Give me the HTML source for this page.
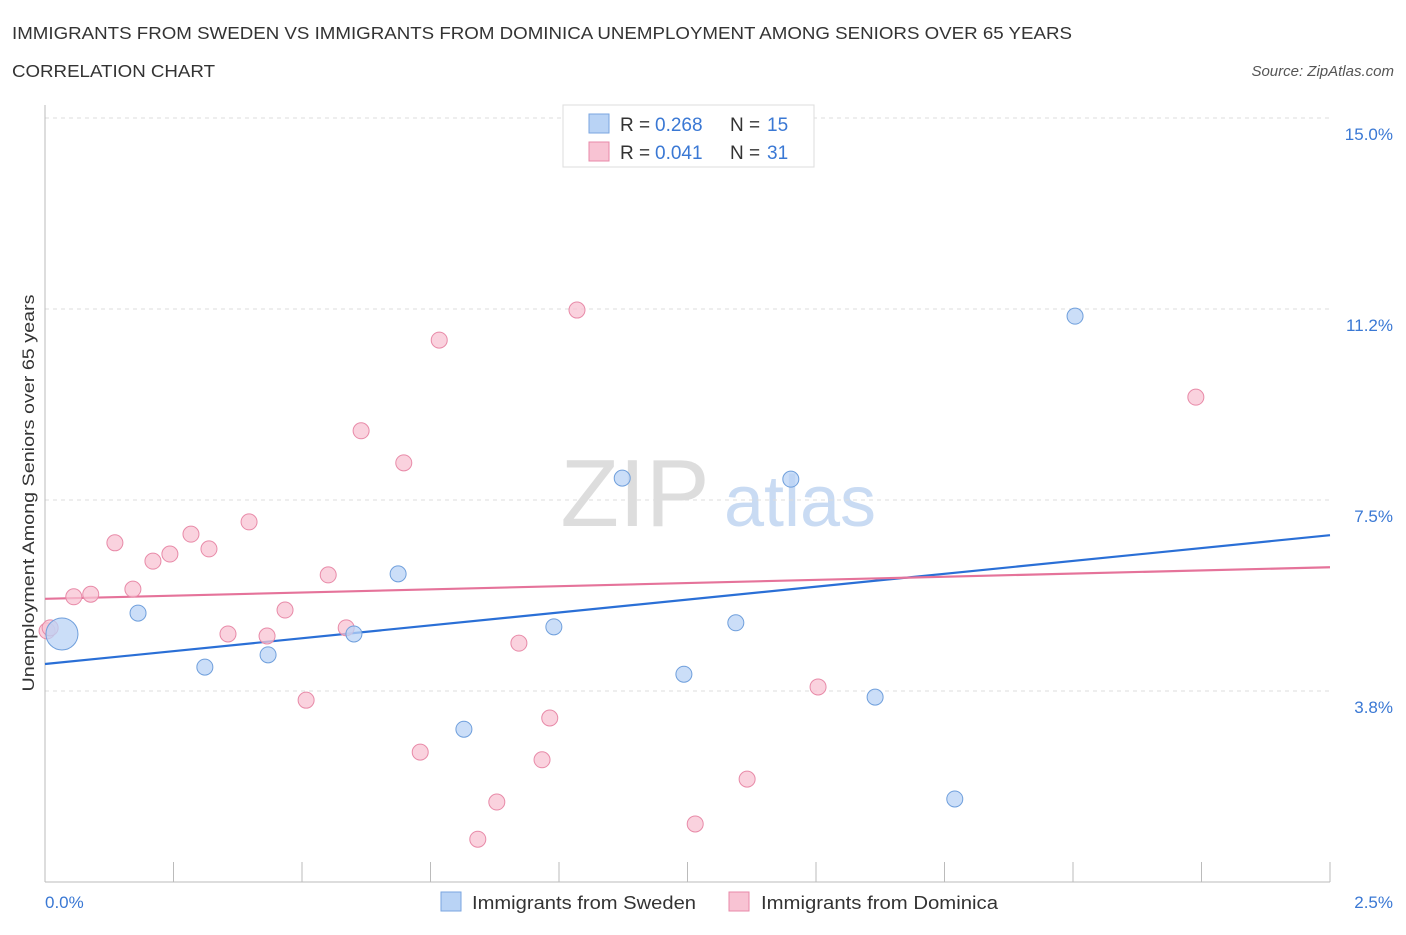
<!DOCTYPE html>
<html><head><meta charset="utf-8"><style>
body{margin:0;background:#fff;font-family:"Liberation Sans",sans-serif;}
svg text{font-family:"Liberation Sans",sans-serif;}
</style></head><body>
<svg width="1406" height="930" id="chart">
<text x="12" y="39" font-size="17.5" fill="#333" textLength="1060" lengthAdjust="spacingAndGlyphs">IMMIGRANTS FROM SWEDEN VS IMMIGRANTS FROM DOMINICA UNEMPLOYMENT AMONG SENIORS OVER 65 YEARS</text>
<text x="12" y="77" font-size="17.5" fill="#333" textLength="203" lengthAdjust="spacingAndGlyphs">CORRELATION CHART</text>
<text x="1394" y="76" font-size="15" fill="#555" font-style="italic" text-anchor="end">Source: ZipAtlas.com</text>
<text x="635" y="526" font-size="96" fill="#ddd" font-family="Liberation Serif" text-anchor="middle">ZIP</text>
<text x="800" y="526" font-size="72" fill="#c9dbf3" text-anchor="middle">atlas</text>
<text transform="translate(34,493) rotate(-90)" font-size="17" fill="#333" text-anchor="middle" textLength="397" lengthAdjust="spacingAndGlyphs">Unemployment Among Seniors over 65 years</text>
<g id="grid"></g><g id="axes"></g><g id="lines"></g><g id="pts"></g>
<g>
<rect x="563" y="105" width="251" height="62" fill="#fff" stroke="#ddd"/>
<rect x="589" y="114" width="20" height="19" fill="#b9d3f5" stroke="#7aa6e0"/>
<rect x="589" y="142" width="20" height="19" fill="#f8c3d3" stroke="#e88aa8"/>
<text x="620" y="131" font-size="19" fill="#333">R =</text>
<text x="655" y="131" font-size="19" fill="#3a78d4">0.268</text>
<text x="730" y="131" font-size="19" fill="#333">N =</text>
<text x="767" y="131" font-size="19" fill="#3a78d4">15</text>
<text x="620" y="159" font-size="19" fill="#333">R =</text>
<text x="655" y="159" font-size="19" fill="#3a78d4">0.041</text>
<text x="730" y="159" font-size="19" fill="#333">N =</text>
<text x="767" y="159" font-size="19" fill="#3a78d4">31</text>
</g>
<g>
<rect x="441" y="892" width="20" height="19" fill="#b9d3f5" stroke="#7aa6e0"/>
<text x="472" y="909" font-size="18" fill="#333" textLength="224" lengthAdjust="spacingAndGlyphs">Immigrants from Sweden</text>
<rect x="729" y="892" width="20" height="19" fill="#f8c3d3" stroke="#e88aa8"/>
<text x="761" y="909" font-size="18" fill="#333" textLength="237" lengthAdjust="spacingAndGlyphs">Immigrants from Dominica</text>
</g>
</svg>
<script>
const yTicks=[15,11.25,7.5,3.75];
const yTickLabels=["15.0%","11.2%","7.5%","3.8%"];
const xTickLabels=["0.0%","2.5%"];
const swedenX=[0.033,0.181,0.311,0.434,0.601,0.687,0.815,0.99,1.123,1.243,1.344,1.451,1.615,1.770,2.004];
const swedenY=[4.87,5.28,4.22,4.46,4.87,6.05,3.0,5.01,7.93,4.08,5.09,7.91,3.63,1.63,11.11];
const swedenR=[16,9,9,9,9,9,9,9,9,9,9,9,9,9,9];
const domX=[0.004,0.01,0.056,0.089,0.136,0.171,0.210,0.243,0.284,0.319,0.356,0.397,0.432,0.467,0.508,0.551,0.586,0.615,0.698,0.730,0.767,0.842,0.879,0.922,0.967,0.982,1.035,1.265,1.366,1.504,2.239];
const domY=[4.93,4.99,5.60,5.65,6.66,5.75,6.30,6.44,6.83,6.54,4.87,7.07,4.83,5.34,3.57,6.03,4.99,8.86,8.23,2.55,10.64,0.84,1.57,4.69,2.40,3.22,11.23,1.14,2.02,3.83,9.52];
const swedenTrend=[4.28,6.81];
const domTrend=[5.56,6.18];
const X=v=>45+v*514, Y=v=>882-v*50.93;
const NS="http://www.w3.org/2000/svg";
function mk(t,a,p){const e=document.createElementNS(NS,t);for(const k in a)e.setAttribute(k,a[k]);document.getElementById(p).appendChild(e);return e;}
yTicks.forEach((t,i)=>{
 const l=mk('line',{x1:45,x2:1330,y1:Y(t),y2:Y(t),stroke:'#ddd','stroke-dasharray':'4,4'},'grid');
 
 
 const tx=mk('text',{x:1393,y:Y(t)+22,'font-size':17,fill:'#3a78d4','text-anchor':'end'},'grid');tx.textContent=yTickLabels[i];
 
 
});
const ax=mk('line',{x1:45,x2:45,y1:105,y2:882,stroke:'#bbb'},'axes');


const bx=mk('line',{x1:45,x2:1330,y1:882,y2:882,stroke:'#bbb'},'axes');


for(let i=0;i<=10;i++){const t=mk('line',{x1:X(i*0.25),x2:X(i*0.25),y1:i==0?882:862,y2:882,stroke:'#bbb'},'axes');
 
 }
[[0,45,'start'],[1,1393,'end']].forEach(([i,x,a])=>{const t=mk('text',{x:x,y:908,'font-size':17,fill:'#3a78d4','text-anchor':a},'axes');t.textContent=xTickLabels[i];
 
 });
const l1=mk('line',{x1:X(0),x2:X(2.5),y1:Y(swedenTrend[0]),y2:Y(swedenTrend[1]),stroke:'#2a6fd6','stroke-width':2.2},'lines');


const l2=mk('line',{x1:X(0),x2:X(2.5),y1:Y(domTrend[0]),y2:Y(domTrend[1]),stroke:'#e5739a','stroke-width':2.2},'lines');


domX.forEach((v,i)=>{const c=mk('circle',{cx:X(v),cy:Y(domY[i]),r:8,fill:'#f8c3d3','fill-opacity':0.75,stroke:'#e88aa8'},'pts');
 
 });
swedenX.forEach((v,i)=>{const c=mk('circle',{cx:X(v),cy:Y(swedenY[i]),r:swedenR[i]==16?16:8,fill:'#b9d3f5','fill-opacity':0.75,stroke:'#6f9fdc'},'pts');
 
 });
</script>
</body></html>
